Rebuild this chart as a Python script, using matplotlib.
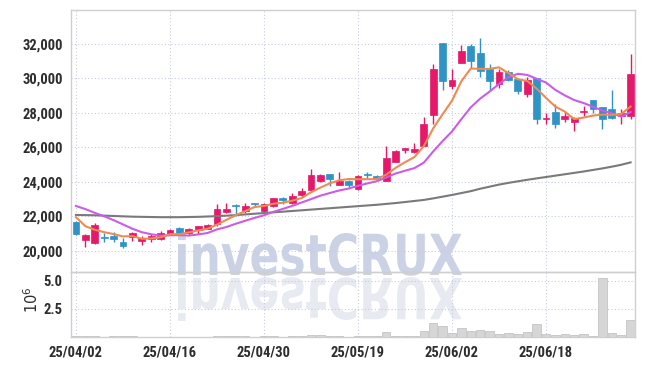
import matplotlib
matplotlib.use('Agg')
import matplotlib.pyplot as plt
import numpy as np
from matplotlib.textpath import TextPath
from matplotlib.patches import PathPatch
from matplotlib.font_manager import FontProperties
from matplotlib.transforms import Affine2D

# ---------------- data ----------------
dates = ['25/04/02', '25/04/03', '25/04/04', '25/04/07', '25/04/08', '25/04/09', '25/04/10', '25/04/11',
         '25/04/14', '25/04/15', '25/04/16', '25/04/17', '25/04/18', '25/04/21', '25/04/22', '25/04/23',
         '25/04/24', '25/04/25', '25/04/28', '25/04/29', '25/04/30', '25/05/02', '25/05/07', '25/05/08',
         '25/05/09', '25/05/12', '25/05/13', '25/05/14', '25/05/15', '25/05/16', '25/05/19', '25/05/20',
         '25/05/21', '25/05/22', '25/05/23', '25/05/26', '25/05/27', '25/05/28', '25/05/29', '25/05/30',
         '25/06/02', '25/06/04', '25/06/05', '25/06/09', '25/06/10', '25/06/11', '25/06/12', '25/06/13',
         '25/06/16', '25/06/17', '25/06/18', '25/06/19', '25/06/20', '25/06/23', '25/06/24', '25/06/25',
         '25/06/26', '25/06/27', '25/06/30', '25/07/01']

opens = [21660, 20620, 20450, 20790, 20850, 20500, 20810, 20580, 20680, 20660,
         20950, 21330, 21030, 21200, 21260, 21530, 22240, 22650, 22300, 22780,
         22320, 22590, 23070, 22780, 23210, 23520, 24060, 24430, 23810, 24040,
         23580, 24440, 24330, 24040, 25160, 25840, 25720, 26090, 27880, 32060,
         29570, 30900, 31880, 31500, 30570, 29700, 30400, 29950, 29070, 30030,
         27640, 28060, 27650, 27480, 28060, 28720, 28330, 28210, 27830, 27810]
closes = [20990, 20930, 21490, 20770, 20680, 20290, 21030, 20720, 20850, 21030,
          21200, 21010, 21260, 21430, 21490, 22400, 22400, 22620, 22590, 22690,
          22710, 23040, 22920, 23170, 23460, 24390, 24390, 24160, 24060, 23810,
          24330, 24420, 24160, 25360, 25780, 25970, 25910, 27330, 30530, 29860,
          29900, 31580, 31010, 30430, 29840, 30360, 29900, 29260, 29900, 27650,
          27660, 27360, 27810, 27730, 28090, 28230, 27650, 27730, 27970, 30260]
highs = [21740, 20950, 21620, 21040, 21100, 20720, 21100, 20870, 20970, 21140,
         21250, 21400, 21350, 21450, 21530, 22690, 22750, 22690, 22800, 22800,
         22750, 23060, 23100, 23330, 23620, 24720, 24430, 24450, 24580, 24130,
         24420, 24580, 24400, 26070, 25870, 25970, 26260, 27770, 30820, 32060,
         30520, 31920, 31980, 32370, 30810, 30530, 30500, 30000, 30090, 30030,
         28000, 28500, 28060, 27770, 28390, 28720, 28330, 29320, 28230, 31440]
lows = [20910, 20200, 20400, 20490, 20500, 20160, 20550, 20330, 20490, 20620,
        20950, 21000, 20910, 21000, 21260, 21450, 22200, 22030, 22200, 22590,
        22200, 22560, 22710, 22740, 23150, 23390, 24000, 23750, 23800, 23680,
        23500, 24230, 24100, 24040, 25160, 25650, 25700, 26090, 27380, 29320,
        29380, 30900, 30630, 30090, 29320, 29470, 29850, 29120, 28930, 27380,
        27330, 27150, 27480, 26940, 27830, 28000, 27040, 27650, 27340, 27650]

ma5 = [21950, 21430, 21220, 21080, 20972, 20832, 20852, 20698, 20714, 20784,
       20966, 20962, 21070, 21186, 21278, 21518, 21796, 22068, 22300, 22540,
       22602, 22730, 22790, 22906, 23060, 23396, 23666, 23914, 24092, 24162,
       24150, 24156, 24156, 24416, 24810, 25138, 25436, 26070, 27104, 27920,
       28706, 29840, 30576, 30556, 30552, 30644, 30308, 29958, 29852, 29414,
       28874, 28366, 28076, 27642, 27730, 27844, 27902, 27886, 27934, 28368]
ma10 = [22600, 22420, 22200, 22000, 21780, 21530, 21280, 21080, 20960, 20878,
        20899, 20907, 20884, 20950, 21031, 21242, 21379, 21569, 21743, 21909,
        22060, 22263, 22429, 22603, 22800, 22999, 23198, 23352, 23499, 23611,
        23773, 23911, 24035, 24254, 24486, 24644, 24796, 25113, 25760, 26365,
        26922, 27638, 28323, 28830, 29236, 29675, 30074, 30267, 30204, 29983,
        29759, 29337, 29017, 28747, 28572, 28359, 28134, 27980, 27787, 28048]
ma60 = [22080, 22070, 22060, 22040, 22020, 22000, 21980, 21970, 21960, 21950,
        21950, 21950, 21960, 21970, 21990, 22010, 22040, 22070, 22110, 22150,
        22190, 22230, 22270, 22310, 22350, 22390, 22430, 22470, 22510, 22550,
        22590, 22630, 22670, 22720, 22770, 22830, 22890, 22950, 23040, 23140,
        23240, 23350, 23460, 23600, 23720, 23840, 23940, 24030, 24120, 24200,
        24280, 24360, 24440, 24520, 24600, 24690, 24780, 24880, 24990, 25130]

volume_m = [0.06, 0.05, 0.08, 0.03, 0.05, 0.07, 0.06, 0.03, 0.03, 0.04,
            0.03, 0.03, 0.03, 0.03, 0.03, 0.08, 0.07, 0.05, 0.06, 0.03,
            0.05, 0.06, 0.04, 0.06, 0.05, 0.22, 0.15, 0.06, 0.08, 0.04,
            0.10, 0.12, 0.08, 0.48, 0.12, 0.05, 0.08, 0.55, 1.28, 0.95,
            0.36, 0.83, 0.50, 0.65, 0.57, 0.30, 0.33, 0.30, 0.48, 1.13,
            0.24, 0.15, 0.24, 0.15, 0.24, 0.12, 5.24, 0.33, 0.15, 1.49]

price_ticks = [20000, 22000, 24000, 26000, 28000, 30000, 32000]
volume_ticks = [2.5, 5.0]
date_tick_idx = [0, 10, 20, 30, 40, 50]

# ---------------- style ----------------
UP = '#e5186a'
DOWN = '#2f93c6'
GRID = '#c8cce0'
SPINE = '#cfcfcf'
TXT = '#2e2e2e'
W, H = 645, 366

plt.rcParams['font.family'] = ['Roboto Condensed', 'Liberation Sans Narrow', 'DejaVu Sans']

fig = plt.figure(figsize=(W / 100, H / 100), dpi=100)
fig.patch.set_facecolor('white')

def fx(px):
    return px / W

def fy(py):
    return 1 - py / H

ax = fig.add_axes([fx(71), fy(272), fx(635) - fx(71), fy(10) - fy(272)])
axv = fig.add_axes([fx(71), fy(337), fx(635) - fx(71), fy(272) - fy(337)], sharex=ax)
for a in (ax, axv):
    a.set_facecolor('none')
    for s in a.spines.values():
        s.set_color(SPINE)
        s.set_linewidth(1.0)
    a.grid(True, color=GRID, linestyle=(0, (1, 2)), linewidth=0.8)
    a.set_axisbelow(True)
    a.tick_params(length=0, colors=TXT, labelsize=10.5)
    for lab in a.get_xticklabels() + a.get_yticklabels():
        lab.set_fontweight('bold')

# ---------------- watermark ----------------
wm_prop = FontProperties(family='DejaVu Sans', weight='bold')
tp = TextPath((0, 0), 'investCRUX', size=1, prop=wm_prop)
bb = tp.get_extents()
cap = TextPath((0, 0), 'C', size=1, prop=wm_prop).get_extents().y1
sx = (462 - 178) / (bb.x1 - bb.x0)
sy = 42 / cap
base = H - 275
t_main = Affine2D().translate(-bb.x0, 0).scale(sx, sy).translate(178, base).scale(1 / W, 1 / H) + fig.transFigure
fig.patches.append(PathPatch(tp, transform=t_main, facecolor='#cbd2e5', edgecolor='none', zorder=-5))
t_ref = Affine2D().translate(-bb.x0, 0).scale(sx, -sy).translate(178, base - 3).scale(1 / W, 1 / H) + fig.transFigure
fig.patches.append(PathPatch(tp, transform=t_ref, facecolor='#e8eaf2', edgecolor='none', zorder=-5))

# ---------------- candles ----------------
x = np.arange(len(closes))
o = np.array(opens); c = np.array(closes); hi = np.array(highs); lo = np.array(lows)
cols = [UP if cc >= oo else DOWN for oo, cc in zip(o, c)]
body_bot = np.minimum(o, c)
body_h = np.maximum(np.abs(c - o), 45)
ax.vlines(x, lo, hi, colors=cols, linewidth=1.0, zorder=3)
ax.bar(x, body_h, bottom=body_bot, width=0.72, color=cols, edgecolor=cols, linewidth=0.5, zorder=4)

ax.plot(x, ma60, color='#7a7a7a', linewidth=1.5, zorder=5)
ax.plot(x, ma10, color='#cc5ce8', linewidth=1.5, zorder=5)
ax.plot(x, ma5, color='#ef8a52', linewidth=1.5, zorder=6)

ax.set_ylim(18770, 33970)
ax.set_xlim(-0.53, 59.47)
ax.set_yticks(price_ticks)
ax.set_yticklabels([f'{v:,}' for v in price_ticks], fontweight='bold')
ax.tick_params(axis='x', labelbottom=False)
ax.tick_params(axis='y', pad=6)

# ---------------- volume ----------------
axv.bar(x, volume_m, width=0.9, color='#d6d6d6', edgecolor='#bdbdbd', linewidth=0.5, zorder=3)
axv.set_ylim(0, 5.8)
axv.set_yticks(volume_ticks)
axv.set_yticklabels(['2.5', '5.0'], fontweight='bold')
axv.set_xticks(date_tick_idx)
axv.set_xticklabels([dates[i] for i in date_tick_idx], fontweight='bold')
axv.tick_params(axis='x', pad=6)
axv.tick_params(axis='y', pad=6)
fig.text(fx(32), fy(300), r'$10^6$', rotation=90, ha='center', va='center', fontsize=10.5, color=TXT)

fig.savefig('out.png', dpi=100)
